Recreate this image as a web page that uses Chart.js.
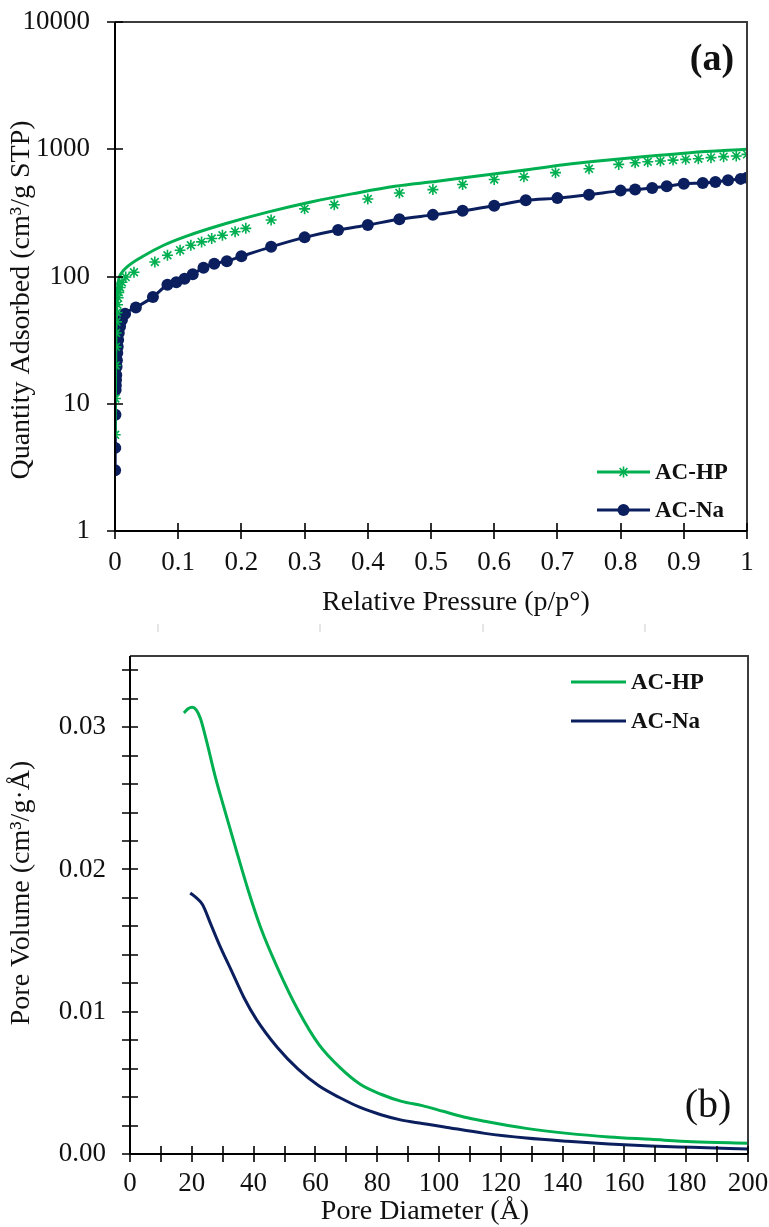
<!DOCTYPE html>
<html>
<head>
<meta charset="utf-8">
<script src="https://cdn.jsdelivr.net/npm/chart.js@4.4.1/dist/chart.umd.min.js"></script>
<style>
  html, body { margin: 0; padding: 0; background: #fff; }
  #wrapA { position: absolute; left: 0; top: 0; width: 769px; height: 620px; }
  #wrapB { position: absolute; left: 0; top: 620px; width: 769px; height: 607px; }
</style>
</head>
<body>
<div id="wrapA"><canvas id="chartA" width="769" height="620"></canvas></div>
<div id="wrapB"><canvas id="chartB" width="769" height="607"></canvas></div>
<script>
// ---- (a) N2 isotherms, relative pressure vs quantity adsorbed ----
const hpLineP = [0.0003, 0.0006, 0.001, 0.0015, 0.002, 0.003, 0.004, 0.006, 0.01, 0.02, 0.043, 0.077, 0.11, 0.177, 0.243, 0.31, 0.377, 0.443, 0.51, 0.577, 0.643, 0.71, 0.777, 0.843, 0.91, 1.0];
const hpLineQ = [5.7, 11, 20, 35, 50, 65, 80, 95, 106, 120, 143, 176, 205, 262, 322, 385, 448, 512, 560, 620, 680, 755, 820, 880, 940, 1000];
const hpMarkP = [0.0003, 0.0006, 0.001, 0.0014, 0.0018, 0.0023, 0.003, 0.004, 0.005, 0.006, 0.008, 0.011, 0.017, 0.03, 0.063, 0.083, 0.103, 0.12, 0.137, 0.153, 0.17, 0.19, 0.207, 0.247, 0.30, 0.347, 0.40, 0.45, 0.503, 0.55, 0.60, 0.647, 0.697, 0.75, 0.797, 0.823, 0.843, 0.863, 0.883, 0.903, 0.923, 0.943, 0.963, 0.983, 1.0];
const hpMarkQ = [5.7, 11, 20, 28, 36, 44, 52, 60, 68, 75, 82, 90, 99, 108, 130, 147, 161, 176, 187, 199, 211, 225, 239, 278, 340, 366, 406, 453, 482, 528, 578, 607, 655, 703, 760, 783, 798, 808, 822, 833, 843, 859, 875, 886, 912];
const naP = [0.0002, 0.0004, 0.0007, 0.001, 0.0013, 0.0016, 0.002, 0.0025, 0.003, 0.0036, 0.0043, 0.005, 0.006, 0.008, 0.011, 0.016, 0.033, 0.06, 0.083, 0.097, 0.11, 0.123, 0.14, 0.157, 0.177, 0.2, 0.247, 0.3, 0.353, 0.4, 0.45, 0.503, 0.55, 0.6, 0.65, 0.7, 0.75, 0.8, 0.823, 0.85, 0.873, 0.9, 0.93, 0.95, 0.97, 0.99, 1.0];
const naQ = [3.0, 4.5, 8.2, 12.8, 14, 15.4, 16.8, 19.5, 22, 25, 28, 31.7, 36, 40.5, 45.5, 51, 57, 69, 86, 90, 96, 104, 117, 126, 132, 144, 171, 203, 232, 254, 282, 305, 328, 360, 397, 413, 439, 473, 482, 497, 512, 535, 544, 554, 571, 585, 596];

const xTicksA = [0, 0.1, 0.2, 0.3, 0.4, 0.5, 0.6, 0.7, 0.8, 0.9, 1];
const xLabelsA = ['0', '0.1', '0.2', '0.3', '0.4', '0.5', '0.6', '0.7', '0.8', '0.9', '1'];
const yTicksA = [1, 10, 100, 1000, 10000];
const yLabelsA = ['1', '10', '100', '1000', '10000'];

// ---- (b) pore size distribution ----
const hpD = [17.4, 18.8, 20.1, 21.5, 22.8, 24.8, 27.5, 30.2, 34.2, 38.3, 42.3, 47.7, 54.4, 61.1, 67.8, 74.5, 81.2, 87.9, 94.6, 101.3, 108, 114.8, 128.2, 141.6, 155, 168.5, 181.9, 200];
const hpV = [0.0310, 0.0313, 0.0314, 0.0312, 0.0306, 0.0290, 0.0266, 0.0245, 0.0215, 0.0185, 0.0159, 0.0131, 0.0101, 0.0077, 0.0061, 0.0049, 0.0042, 0.0037, 0.0034, 0.0030, 0.0026, 0.0023, 0.0018, 0.00145, 0.0012, 0.00103, 0.00086, 0.00075];
const naD = [19.5, 21.5, 23.5, 26.2, 28.9, 32.9, 36.9, 40.9, 47.7, 54.4, 61.1, 67.8, 74.5, 81.2, 87.9, 94.6, 101.3, 114.8, 128.2, 141.6, 155, 168.5, 181.9, 200];
const naV = [0.01834, 0.0180, 0.01752, 0.01612, 0.01472, 0.01285, 0.01098, 0.00946, 0.00748, 0.00596, 0.00479, 0.00397, 0.00327, 0.00276, 0.00238, 0.00215, 0.00192, 0.00145, 0.00112, 0.00089, 0.0007, 0.00056, 0.00047, 0.00035];

const xTicksB = [0, 10, 20, 30, 40, 50, 60, 70, 80, 90, 100, 110, 120, 130, 140, 150, 160, 170, 180, 190, 200];
const yTicksB = [0, 0.002, 0.004, 0.006, 0.008, 0.01, 0.012, 0.014, 0.016, 0.018, 0.02, 0.022, 0.024, 0.026, 0.028, 0.03, 0.032, 0.034];
const yLabelsB = ['0.00', '0.01', '0.02', '0.03'];

const GREEN = '#00b050';
const NAVY = '#0b1f5e';
const SERIF = "'Liberation Serif', 'Times New Roman', serif";

const pts = (xs, ys) => xs.map((x, i) => ({ x: x, y: ys[i] }));

function marker(ctx, style, x, y, r, color) {
  ctx.save();
  ctx.strokeStyle = color; ctx.fillStyle = color; ctx.lineWidth = 1.6;
  ctx.beginPath();
  if (style === 'circle') {
    ctx.arc(x, y, r, 0, Math.PI * 2); ctx.fill();
  } else {
    for (let k = 0; k < 4; k++) {
      const a = k * Math.PI / 4;
      ctx.moveTo(x - r * Math.cos(a), y - r * Math.sin(a));
      ctx.lineTo(x + r * Math.cos(a), y + r * Math.sin(a));
    }
    ctx.stroke();
  }
  ctx.restore();
}

// axes frame, crossing tick marks, titles, legend and panel letter
const decor = {
  id: 'decor',
  afterDraw(chart, args, o) {
    const ctx = chart.ctx, a = chart.chartArea;
    const xs = chart.scales.x, ys = chart.scales.y;
    ctx.save();
    ctx.lineWidth = 2;
    ctx.strokeStyle = '#3c3c3c';
    ctx.beginPath();
    ctx.moveTo(a.left, a.top); ctx.lineTo(a.right, a.top); ctx.lineTo(a.right, a.bottom);
    ctx.stroke();
    ctx.strokeStyle = '#000';
    ctx.beginPath();
    ctx.moveTo(a.left, a.top); ctx.lineTo(a.left, a.bottom); ctx.lineTo(a.right, a.bottom);
    ctx.stroke();
    ctx.lineWidth = 1.6;
    ctx.beginPath();
    xs.ticks.forEach(t => {
      const px = Math.round(xs.getPixelForValue(t.value));
      ctx.moveTo(px, a.bottom - 8); ctx.lineTo(px, a.bottom + 8);
    });
    ys.ticks.forEach(t => {
      const py = Math.round(ys.getPixelForValue(t.value));
      ctx.moveTo(a.left - 8, py); ctx.lineTo(a.left + 8, py);
    });
    ctx.stroke();

    (o.faint || []).forEach(fx => {
      ctx.strokeStyle = '#d4d4d4'; ctx.lineWidth = 1.2;
      ctx.beginPath(); ctx.moveTo(fx, 4); ctx.lineTo(fx, 12); ctx.stroke();
    });

    ctx.fillStyle = '#111';
    ctx.textBaseline = 'middle';
    ctx.textAlign = 'center';
    ctx.font = '28px ' + SERIF;
    ctx.fillText(o.xTitle.text, o.xTitle.x, o.xTitle.y);
    ctx.save();
    ctx.translate(o.yTitle.x, o.yTitle.y);
    ctx.rotate(-Math.PI / 2);
    ctx.fillText(o.yTitle.text, 0, 0);
    ctx.restore();

    ctx.font = o.tag.font + ' ' + SERIF;
    ctx.fillText(o.tag.text, o.tag.x, o.tag.y);

    o.legend.forEach(item => {
      ctx.strokeStyle = item.color; ctx.lineWidth = 3;
      ctx.beginPath(); ctx.moveTo(o.legendX0, item.y); ctx.lineTo(o.legendX1, item.y); ctx.stroke();
      if (item.style) marker(ctx, item.style, (o.legendX0 + o.legendX1) / 2, item.y, item.r, item.color);
      ctx.fillStyle = '#111';
      ctx.textAlign = 'left';
      ctx.font = 'bold 23px ' + SERIF;
      ctx.fillText(item.label, o.legendX1 + 5, item.y + 1);
    });
    ctx.restore();
  }
};

const tickFont = { family: SERIF, size: 27 };

// pin the plot rectangle: fixed axis box sizes, no label overhang padding
const fitX = h => s => { s.height = h; s.paddingLeft = 0; s.paddingRight = 0; };
const fitY = w => s => { s.width = w; s.paddingTop = 0; s.paddingBottom = 0; };

new Chart(document.getElementById('chartA'), {
  type: 'scatter',
  data: {
    datasets: [
      { label: 'AC-HP', data: pts(hpLineP, hpLineQ), showLine: true, borderColor: GREEN, borderWidth: 3,
        pointRadius: 0, cubicInterpolationMode: 'monotone' },
      { label: 'AC-HP', data: pts(hpMarkP, hpMarkQ), showLine: false, borderColor: GREEN, backgroundColor: GREEN,
        pointStyle: 'star', pointRadius: 5.5, pointBorderWidth: 1.6 },
      { label: 'AC-Na', data: pts(naP, naQ), showLine: true, borderColor: NAVY, backgroundColor: NAVY, borderWidth: 3,
        pointStyle: 'circle', pointRadius: 6, pointBorderWidth: 0, cubicInterpolationMode: 'monotone' }
    ]
  },
  options: {
    responsive: false,
    animation: false,
    layout: { padding: { top: 22, right: 22, left: 0, bottom: 0 } },
    plugins: {
      legend: { display: false },
      tooltip: { enabled: false },
      decor: {
        xTitle: { text: 'Relative Pressure (p/p°)', x: 456, y: 603 },
        yTitle: { text: 'Quantity Adsorbed (cm³/g STP)', x: 22, y: 300 },
        tag: { text: '(a)', font: 'bold 38px', x: 712, y: 60 },
        legendX0: 597, legendX1: 650,
        legend: [
          { label: 'AC-HP', color: GREEN, style: 'star', r: 5.5, y: 472 },
          { label: 'AC-Na', color: NAVY, style: 'circle', r: 6, y: 510 }
        ]
      }
    },
    scales: {
      x: {
        type: 'linear', min: 0, max: 1,
        grid: { display: false }, border: { display: false },
        afterBuildTicks: s => { s.ticks = xTicksA.map(v => ({ value: v })); },
        afterFit: fitX(89),
        ticks: { padding: 8, color: '#111', font: tickFont, maxRotation: 0, autoSkip: false,
          callback: (v, i) => xLabelsA[i] }
      },
      y: {
        type: 'logarithmic', min: 1, max: 10000,
        grid: { display: false }, border: { display: false },
        afterBuildTicks: s => { s.ticks = yTicksA.map(v => ({ value: v })); },
        afterFit: fitY(115),
        ticks: { padding: 17, color: '#111', font: tickFont, autoSkip: false,
          callback: (v, i) => yLabelsA[i] }
      }
    }
  },
  plugins: [decor]
});

new Chart(document.getElementById('chartB'), {
  type: 'scatter',
  data: {
    datasets: [
      { label: 'AC-HP', data: pts(hpD, hpV), showLine: true, borderColor: GREEN, borderWidth: 3,
        pointRadius: 0, cubicInterpolationMode: 'monotone' },
      { label: 'AC-Na', data: pts(naD, naV), showLine: true, borderColor: NAVY, borderWidth: 3,
        pointRadius: 0, cubicInterpolationMode: 'monotone' }
    ]
  },
  options: {
    responsive: false,
    animation: false,
    layout: { padding: { top: 36, right: 21, left: 0, bottom: 0 } },
    plugins: {
      legend: { display: false },
      tooltip: { enabled: false },
      decor: {
        faint: [158, 320, 483, 645],
        xTitle: { text: 'Pore Diameter (Å)', x: 425, y: 592 },
        yTitle: { text: 'Pore Volume (cm³/g·Å)', x: 22, y: 273 },
        tag: { text: '(b)', font: '40px', x: 708, y: 486 },
        legendX0: 571, legendX1: 626,
        legend: [
          { label: 'AC-HP', color: GREEN, y: 62 },
          { label: 'AC-Na', color: NAVY, y: 101 }
        ]
      }
    },
    scales: {
      x: {
        type: 'linear', min: 0, max: 200,
        grid: { display: false }, border: { display: false },
        afterBuildTicks: s => { s.ticks = xTicksB.map(v => ({ value: v })); },
        afterFit: fitX(73),
        ticks: { padding: 6, color: '#111', font: tickFont, maxRotation: 0, autoSkip: false,
          callback: v => (v % 20 === 0 ? String(v) : '') }
      },
      y: {
        type: 'linear', min: 0, max: 0.035,
        grid: { display: false }, border: { display: false },
        afterBuildTicks: s => { s.ticks = yTicksB.map(v => ({ value: v })); },
        afterFit: fitY(130),
        ticks: { padding: 16, color: '#111', font: tickFont, autoSkip: false,
          callback: v => {
            const k = Math.round(v / 0.01);
            return Math.abs(v - k * 0.01) < 1e-9 ? yLabelsB[k] : '';
          } }
      }
    }
  },
  plugins: [decor]
});
</script>
</body>
</html>
